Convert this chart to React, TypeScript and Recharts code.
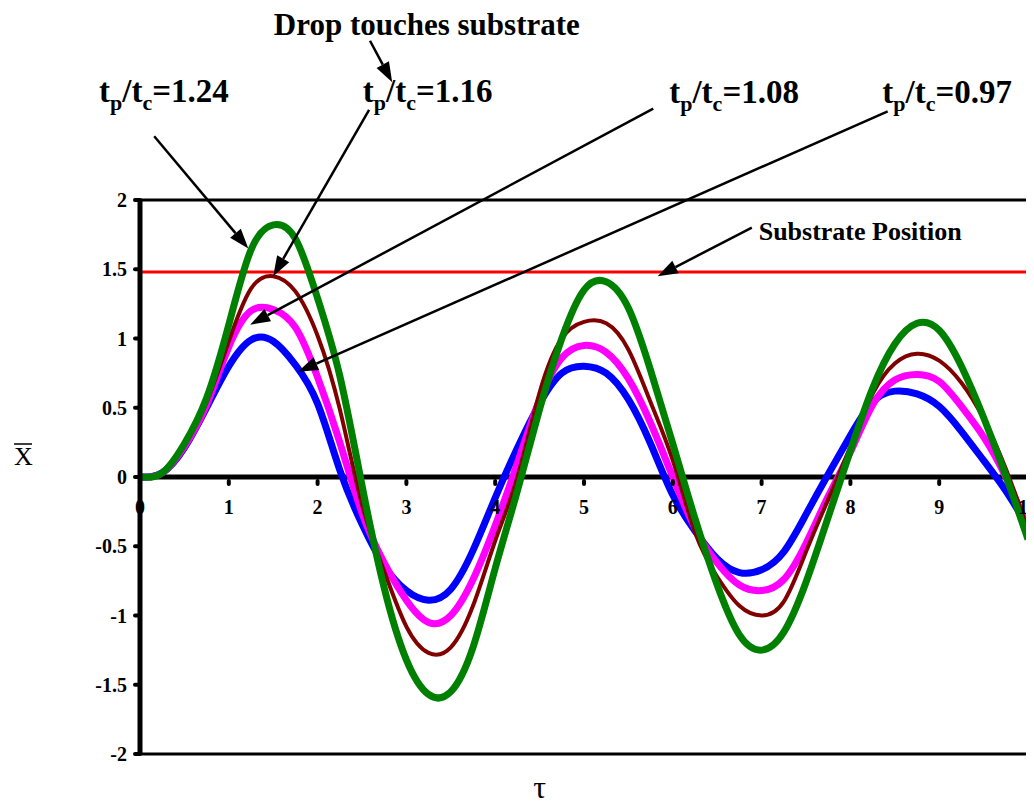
import React from 'react';
import {
  LineChart,
  Line,
  XAxis,
  YAxis,
  ReferenceLine,
  ReferenceArea,
  ReferenceDot,
} from 'recharts';

// dimensionless time
const tau = [
  0, 0.25, 0.5, 0.75, 1, 1.25, 1.5, 1.75, 2, 2.25, 2.5, 2.75, 3, 3.25, 3.5, 3.75, 4,
  4.25, 4.5, 4.75, 5, 5.25, 5.5, 5.75, 6, 6.25, 6.5, 6.75, 7, 7.25, 7.5, 7.75, 8,
  8.25, 8.5, 8.75, 9, 9.25, 9.5, 9.75, 10,
];

// drop position for each tp/tc
const x124 = [
  0, 0.03, 0.24, 0.57, 1.1, 1.64, 1.82, 1.72, 1.29, 0.73, -0.06, -0.8, -1.32, -1.57,
  -1.55, -1.23, -0.66, -0.1, 0.49, 1.0, 1.35, 1.41, 1.22, 0.77, 0.24, -0.3, -0.78,
  -1.14, -1.25, -1.12, -0.76, -0.29, 0.19, 0.64, 0.96, 1.11, 1.06, 0.8, 0.43, 0.01, -0.45,
];
const x116 = [
  0, 0.03, 0.23, 0.54, 0.98, 1.36, 1.45, 1.34, 1.02, 0.49, -0.2, -0.68, -1.08, -1.27,
  -1.23, -0.93, -0.46, 0.0, 0.61, 1.0, 1.12, 1.11, 0.92, 0.54, 0.12, -0.4, -0.72,
  -0.93, -1.0, -0.9, -0.54, -0.16, 0.22, 0.6, 0.82, 0.89, 0.84, 0.68, 0.42, 0.06, -0.38,
];
const x108 = [
  0, 0.03, 0.22, 0.52, 0.94, 1.2, 1.21, 1.08, 0.72, 0.25, -0.26, -0.62, -0.89, -1.05,
  -1.0, -0.74, -0.35, 0.1, 0.56, 0.86, 0.95, 0.9, 0.71, 0.39, 0.0, -0.37, -0.62,
  -0.78, -0.82, -0.74, -0.48, -0.14, 0.18, 0.52, 0.7, 0.74, 0.69, 0.51, 0.29, 0.0, -0.37,
];
const x097 = [
  0, 0.03, 0.21, 0.5, 0.8, 0.99, 0.98, 0.81, 0.53, 0.05, -0.34, -0.64, -0.82, -0.89,
  -0.81, -0.53, -0.15, 0.21, 0.53, 0.75, 0.8, 0.75, 0.56, 0.24, -0.13, -0.39, -0.59,
  -0.69, -0.67, -0.54, -0.27, 0.02, 0.3, 0.54, 0.62, 0.6, 0.51, 0.33, 0.12, -0.1, -0.36,
];

const substrate = 1.48;
const yTicks = [-2, -1.5, -1, -0.5, 0, 0.5, 1, 1.5, 2];
const xTicks = [0, 1, 2, 3, 4, 5, 6, 7, 8, 9, 10];

// annotation arrows in data units: [tau1, x1, tau2, x2]
const arrows = [
  [2.59, 3.15, 2.84, 2.85],
  [0.16, 2.46, 1.22, 1.65],
  [2.58, 2.65, 1.5, 1.45],
  [5.78, 2.66, 1.24, 1.1],
  [8.42, 2.64, 1.78, 0.76],
  [6.89, 1.8, 5.83, 1.45],
];
const ratioLabels = [
  { v: '1.24', tau: 0.27, x: 2.71 },
  { v: '1.16', tau: 3.24, x: 2.71 },
  { v: '1.08', tau: 6.69, x: 2.7 },
  { v: '0.97', tau: 9.09, x: 2.7 },
];

const data = tau.map((t, i) => ({
  tau: t,
  a: x124[i],
  b: x116[i],
  c: x108[i],
  d: x097[i],
}));

const serif = "'Liberation Serif', 'DejaVu Serif', serif";

const Arrow = (props: any) => {
  const { x1, y1, x2, y2 } = props;
  const ang = Math.atan2(y2 - y1, x2 - x1);
  const len = 20;
  const half = 7;
  const bx = x2 - len * Math.cos(ang);
  const by = y2 - len * Math.sin(ang);
  const pts = `${x2},${y2} ${bx + half * Math.sin(ang)},${by - half * Math.cos(ang)} ${
    bx - half * Math.sin(ang)
  },${by + half * Math.cos(ang)}`;
  return (
    <g>
      <line x1={x1} y1={y1} x2={bx} y2={by} stroke="#000" strokeWidth={2.5} />
      <polygon points={pts} fill="#000" />
    </g>
  );
};

export default function App() {
  return (
    <div style={{ fontFamily: serif }}>
      <LineChart
        width={1026}
        height={801}
        data={data}
        margin={{ top: 192, right: 6, bottom: 0, left: 0 }}
      >
        <XAxis
          dataKey="tau"
          type="number"
          domain={[0, 10]}
          ticks={xTicks}
          height={55}
          tick={false}
          tickLine={false}
          axisLine={false}
          label={{
            content: (p: any) => {
              const vb = p.viewBox;
              return (
                <text
                  x={vb.x + vb.width * 0.45}
                  y={vb.y + 44}
                  textAnchor="middle"
                  fontFamily={serif}
                  fontSize={32}
                  fill="#000"
                >
                  τ
                </text>
              );
            },
          }}
        />
        <YAxis
          type="number"
          domain={[-2, 2]}
          ticks={yTicks}
          width={132}
          axisLine={{ stroke: '#000', strokeWidth: 5 }}
          tickLine={{ stroke: '#000', strokeWidth: 4, strokeLinecap: 'round' }}
          tickSize={5}
          tickMargin={8}
          tick={{ fontFamily: serif, fontSize: 20, fontWeight: 'bold', fill: '#000' }}
          label={{
            content: (p: any) => {
              const vb = p.viewBox;
              const y = vb.y + vb.height / 2 - 12;
              return (
                <g>
                  <text x={6} y={y} fontFamily={serif} fontSize={26} fill="#000">
                    X
                  </text>
                  <line x1={6} y1={y - 21} x2={24} y2={y - 21} stroke="#000" strokeWidth={1.5} />
                </g>
              );
            },
          }}
        />
        <ReferenceArea
          x1={0}
          x2={10}
          y1={-2}
          y2={2}
          fill="none"
          fillOpacity={0}
          stroke="#000"
          strokeWidth={3}
          ifOverflow="visible"
        />
        <ReferenceLine y={0} stroke="#000" strokeWidth={5} />
        <ReferenceLine y={substrate} stroke="#ff0000" strokeWidth={3} />
        {xTicks.map((k) => (
          <ReferenceDot
            key={'t' + k}
            x={k}
            y={0}
            ifOverflow="visible"
            shape={(p: any) => (
              <g>
                <line
                  x1={p.cx}
                  y1={p.cy + 4}
                  x2={p.cx}
                  y2={p.cy + 7}
                  stroke="#000"
                  strokeWidth={4}
                  strokeLinecap="round"
                />
                <text
                  x={p.cx}
                  y={p.cy + 37}
                  textAnchor="middle"
                  fontFamily={serif}
                  fontSize={20}
                  fontWeight="bold"
                  fill="#000"
                >
                  {k}
                </text>
              </g>
            )}
          />
        ))}
        <Line dataKey="d" type="natural" stroke="#0000ff" strokeWidth={7} dot={false} isAnimationActive={false} />
        <Line dataKey="c" type="natural" stroke="#ff00ff" strokeWidth={7} dot={false} isAnimationActive={false} />
        <Line dataKey="b" type="natural" stroke="#800000" strokeWidth={4} dot={false} isAnimationActive={false} />
        <Line dataKey="a" type="natural" stroke="#008000" strokeWidth={7} dot={false} isAnimationActive={false} />
        {arrows.map((s, i) => (
          <ReferenceLine
            key={'a' + i}
            segment={[
              { x: s[0], y: s[1] },
              { x: s[2], y: s[3] },
            ]}
            ifOverflow="visible"
            shape={Arrow}
          />
        ))}
        {ratioLabels.map((r) => (
          <ReferenceDot
            key={r.v}
            x={r.tau}
            y={r.x}
            ifOverflow="visible"
            shape={(p: any) => (
              <text
                x={p.cx}
                y={p.cy}
                textAnchor="middle"
                fontFamily={serif}
                fontSize={33}
                fontWeight="bold"
                fill="#000"
              >
                <tspan>t</tspan>
                <tspan dy={8} fontSize={22}>p</tspan>
                <tspan dy={-8}>/t</tspan>
                <tspan dy={8} fontSize={22}>c</tspan>
                <tspan dy={-8}>={r.v}</tspan>
              </text>
            )}
          />
        ))}
        <ReferenceDot
          x={3.23}
          y={3.19}
          ifOverflow="visible"
          shape={(p: any) => (
            <text x={p.cx} y={p.cy} textAnchor="middle" fontFamily={serif} fontSize={31} fontWeight="bold" fill="#000">
              Drop touches substrate
            </text>
          )}
        />
        <ReferenceDot
          x={8.11}
          y={1.71}
          ifOverflow="visible"
          shape={(p: any) => (
            <text x={p.cx} y={p.cy} textAnchor="middle" fontFamily={serif} fontSize={26} fontWeight="bold" fill="#000">
              Substrate Position
            </text>
          )}
        />
      </LineChart>
    </div>
  );
}
